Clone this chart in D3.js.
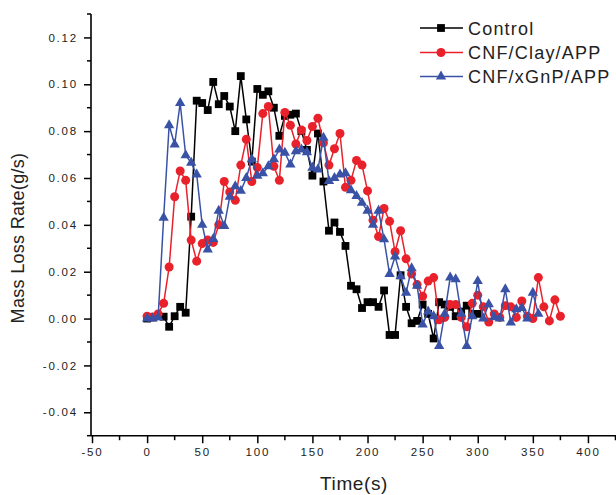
<!DOCTYPE html>
<html><head><meta charset="utf-8">
<script src="https://cdn.jsdelivr.net/npm/d3@7"></script>
<style>body{margin:0;background:#fff}svg{display:block}text{font-family:"Liberation Sans",Arial,sans-serif}</style>
</head><body><svg id="c" width="616" height="495"></svg>
<script>
const seriesNames = ["Control", "CNF/Clay/APP", "CNF/xGnP/APP"];
const controlTime = d3.range(0, 301, 5);
const controlValues = [0.000,0.0005,0.001,0.0008,-0.0035,0.001,0.005,0.0025,0.0435,0.093,
 0.092,0.089,0.101,0.0915,0.095,0.0905,0.080,0.1035,0.085,0.067,
 0.098,0.0955,0.097,0.090,0.078,0.0865,0.087,0.0875,0.080,0.072,
 0.061,0.079,0.0585,0.0375,0.041,0.037,0.031,0.014,0.0125,0.0045,
 0.007,0.007,0.005,0.012,-0.007,-0.007,0.0185,0.005,-0.002,-0.001,
 0.006,0.002,-0.0085,0.007,0.006,0.005,0.001,0.003,0.0055,0.002,0.002];
const clayTime = d3.range(0, 376, 5);
const clayValues = [0.001,0.0007,0.002,0.0065,0.022,0.052,0.063,0.059,0.0335,0.0245,
 0.032,0.0335,0.0325,0.040,0.0585,0.054,0.0505,0.0655,0.0765,0.0585,
 0.0645,0.0875,0.0905,0.065,0.059,0.088,0.0825,0.0745,0.0805,0.076,
 0.082,0.0855,0.075,0.0655,0.0725,0.079,0.056,0.059,0.0675,0.0655,
 0.0545,0.042,0.035,0.047,0.0415,0.0285,0.0375,0.0255,0.019,0.0145,
 0.0095,0.016,0.0175,-0.0005,0.0005,0.006,0.006,0.0005,-0.0035,0.0065,
 0.010,0.005,-0.0015,0.002,0.0005,0.0055,0.005,0.0005,0.0075,0.001,
 0.000,0.0175,0.005,-0.001,0.008,0.001];
const xgnpTime = d3.range(0, 356, 5);
const xgnpValues = [0.000,0.000,0.0005,0.043,0.0825,0.0743,0.092,0.0697,0.0665,0.0615,
 0.040,0.0295,0.034,0.046,0.0395,0.052,0.0565,0.0545,0.060,0.068,
 0.061,0.062,0.065,0.068,0.0722,0.0708,0.0658,0.0714,0.0722,0.071,
 0.0644,0.0636,0.0772,0.0587,0.060,0.0615,0.062,0.0548,0.0523,0.0494,
 0.046,0.040,0.046,0.0338,0.019,0.0265,0.018,0.011,0.0215,0.014,
 -0.0025,0.003,0.001,-0.0117,0.002,0.0175,0.0168,0.002,-0.0117,0.001,
 0.016,0.000,0.0061,0.0005,0.000,0.0125,-0.0017,0.004,0.0045,0.000,
 0.011,0.002];
const xTicks = [-50,0,50,100,150,200,250,300,350,400];
const yTicks = [-0.04,-0.02,0.00,0.02,0.04,0.06,0.08,0.10,0.12];

const svg = d3.select("#c");
const x = d3.scaleLinear().domain([-50, 425]).range([92, 615.5]);
const y = d3.scaleLinear().domain([-0.05, 0.13]).range([435.7, 14]);
const hy = s => s.replace("\u2212","-");

// Y axis
const yAxis = d3.axisLeft(y).tickValues(yTicks).tickSize(7).tickPadding(6)
  .tickFormat(d=>hy(d3.format(".2f")(d))).tickSizeOuter(0);
const gy = svg.append("g").attr("transform","translate(91,0)").call(yAxis);
const yMinor = d3.range(-0.05, 0.1301, 0.01).map(v=>+v.toFixed(3)).filter(v=>!yTicks.some(t=>Math.abs(t-v)<1e-6));
gy.selectAll(".minor").data(yMinor).enter().append("line").attr("class","minor")
  .attr("x1",-4).attr("x2",0).attr("y1",d=>y(d)).attr("y2",d=>y(d)).attr("stroke","#000").attr("stroke-width",1.5);
// X axis
const xAxis = d3.axisBottom(x).tickValues(xTicks).tickSize(7.5).tickPadding(5)
  .tickFormat(d=>hy(d3.format("d")(d))).tickSizeOuter(0);
const gx = svg.append("g").attr("transform","translate(0,435.7)").call(xAxis);
const xMinor = d3.range(-25, 426, 50);
gx.selectAll(".minor").data(xMinor).enter().append("line").attr("class","minor")
  .attr("x1",d=>x(d)).attr("x2",d=>x(d)).attr("y1",0).attr("y2",4.5).attr("stroke","#000").attr("stroke-width",1.5);
[gx,gy].forEach(g=>{
  g.select(".domain").attr("stroke","#000").attr("stroke-width",1.6);
  g.selectAll(".tick line").attr("stroke","#000").attr("stroke-width",1.5);
  g.selectAll(".tick text").attr("fill","#222").style("font-size","11.5px").style("letter-spacing","1.8px")
   .style("font-family","'Liberation Sans',Arial,sans-serif");
});
gy.select(".domain").attr("d","M0,14V435.7");
gx.select(".domain").attr("d","M91,0H616");

// axis titles
svg.append("text").attr("transform","translate(24,238) rotate(-90)").attr("text-anchor","middle")
  .style("font-size","18px").style("letter-spacing","0.3px").attr("fill","#222").text("Mass Loss Rate(g/s)");
svg.append("text").attr("x",354).attr("y",490).attr("text-anchor","middle")
  .style("font-size","19px").style("letter-spacing","0.6px").attr("fill","#222").text("Time(s)");

const colors = ["#000000","#e8212b","#3a52a6"];
const sets = [
  controlTime.map((t,i)=>({t, v:controlValues[i]})),
  clayTime.map((t,i)=>({t, v:clayValues[i]})),
  xgnpTime.map((t,i)=>({t, v:xgnpValues[i]}))
];
const line = d3.line().x(d=>x(d.t)).y(d=>y(d.v));
function marker(g, k, cx, cy){
  if(k===0) g.append("rect").attr("x",cx-3.9).attr("y",cy-3.9).attr("width",7.8).attr("height",7.8).attr("fill",colors[0]);
  else if(k===1) g.append("circle").attr("cx",cx).attr("cy",cy).attr("r",4.5).attr("fill",colors[1]);
  else g.append("path").attr("d",d3.symbol(d3.symbolTriangle,46)()).attr("transform",`translate(${cx},${cy})`).attr("fill",colors[2]);
}
sets.forEach((data,k)=>{
  const g = svg.append("g");
  g.append("path").datum(data).attr("d",line).attr("fill","none").attr("stroke",colors[k]).attr("stroke-width",1.5);
  data.forEach(d=>marker(g,k,x(d.t),y(d.v)));
});

// legend
const legY = [28, 52.5, 76.5];
seriesNames.forEach((name,k)=>{
  const g = svg.append("g");
  g.append("line").attr("x1",420).attr("x2",463).attr("y1",legY[k]).attr("y2",legY[k]).attr("stroke",colors[k]).attr("stroke-width",1.6);
  marker(g,k,441,legY[k]);
  g.append("text").attr("x",468).attr("y",legY[k]+6.5).style("font-size","18px").style("letter-spacing","1.2px")
   .attr("fill","#222").text(name);
});
</script></body></html>
